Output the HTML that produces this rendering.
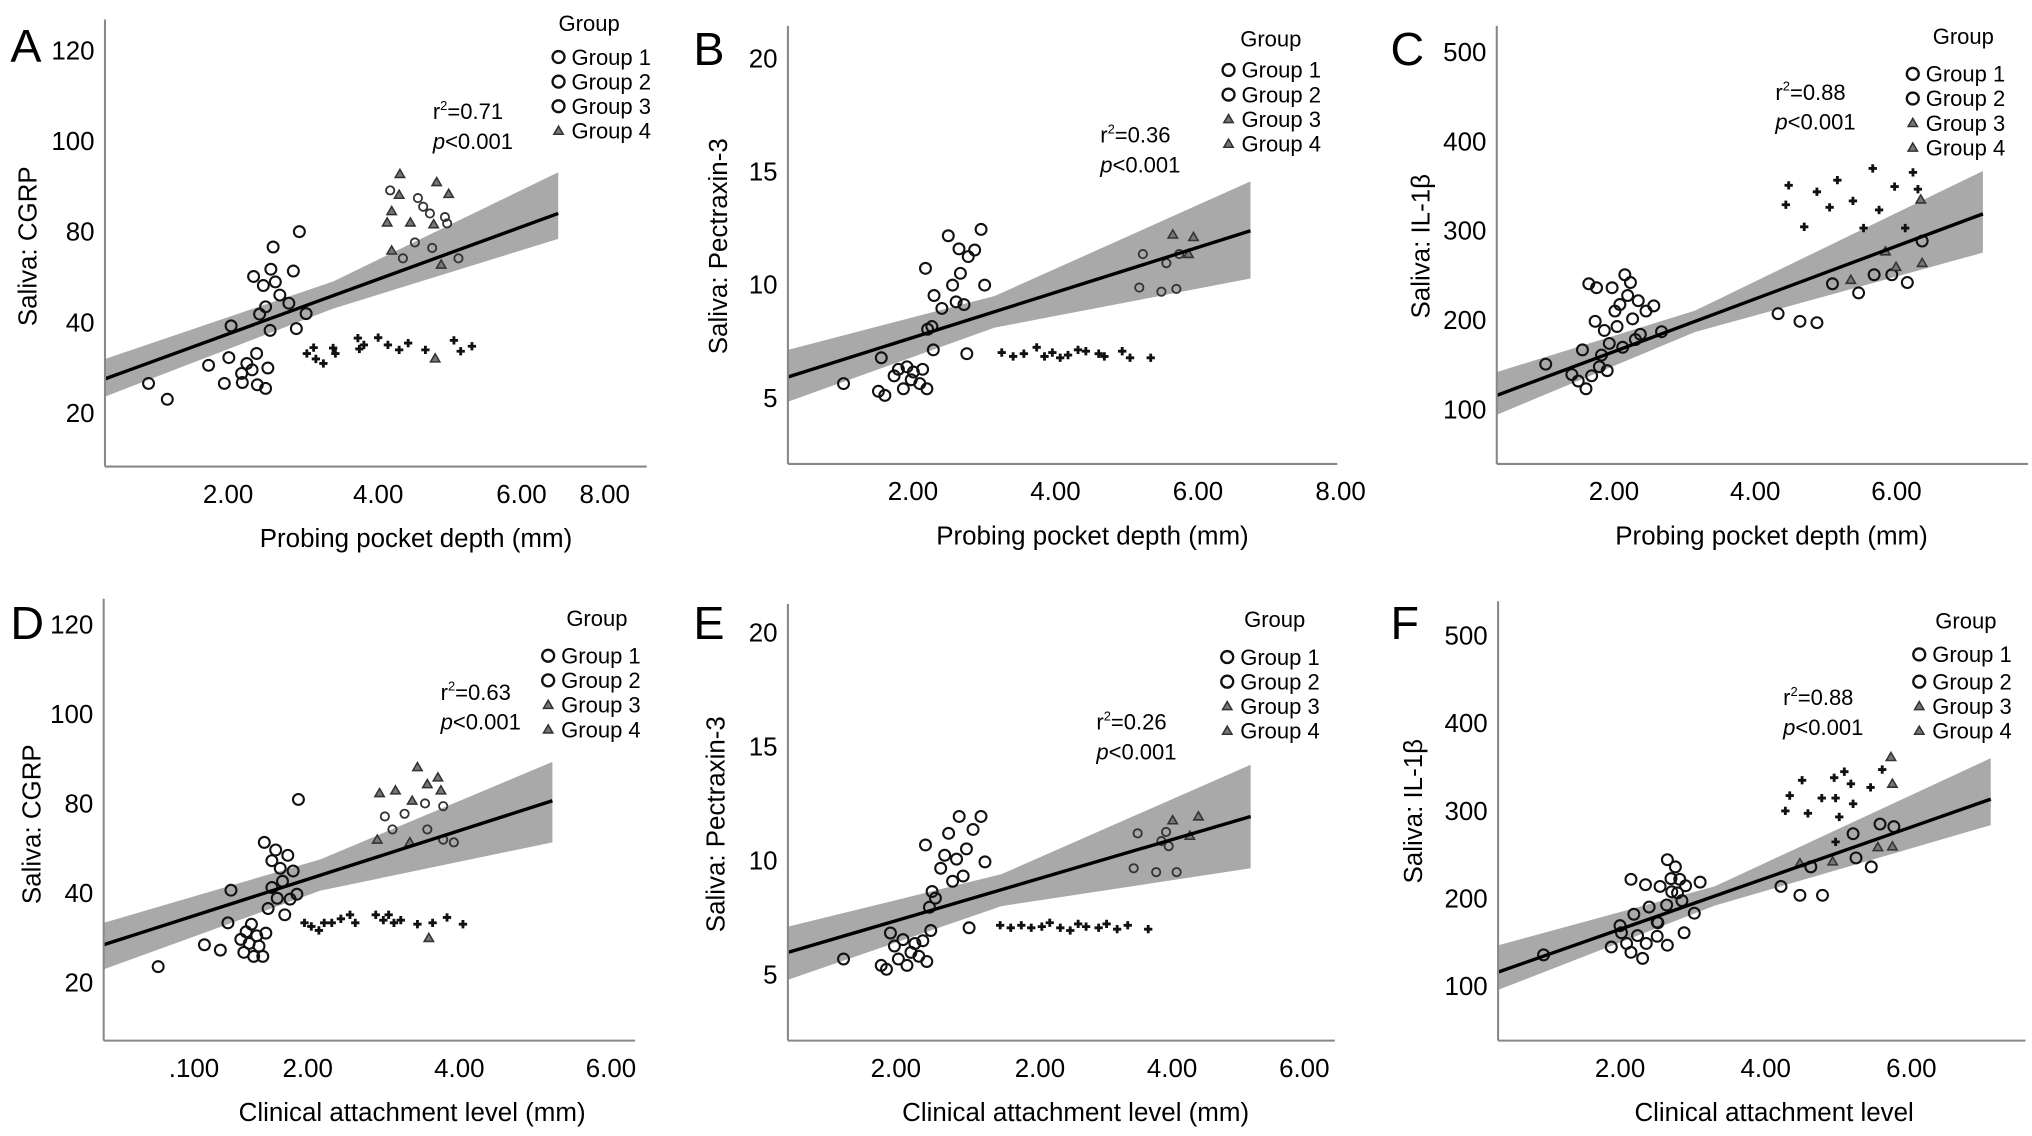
<!DOCTYPE html>
<html><head><meta charset="utf-8"><title>Saliva biomarkers vs periodontal measures</title>
<style>
html,body{margin:0;padding:0;background:#fff;}
svg{display:block;font-family:"Liberation Sans",Arial,sans-serif;}
</style></head>
<body>
<svg id="fig" width="2032" height="1136" viewBox="0 0 1568 876.6" preserveAspectRatio="none" xmlns="http://www.w3.org/2000/svg"></svg>
<script>
// ---------- Panel A: PPD vs CGRP ----------
const A_g1x=[0.94,1.19,1.74,1.95,2.01,2.04,2.18,2.19,2.25,2.32,2.38,2.39,2.34,2.47,2.50,2.53,2.56,2.42,2.50,2.57,2.60,2.63,2.69,2.81,2.87,2.91,2.95,3.04];
const A_g1y=[46.5,43.0,50.5,46.5,52.2,59.2,48.7,46.7,50.9,49.5,53.1,46.2,70.1,68.1,45.4,49.9,58.2,61.8,63.4,71.7,76.6,68.9,66.0,64.2,71.3,58.6,80.0,61.9];
const A_g2x=[3.05,3.14,3.17,3.27,3.40,3.43,3.73,3.75,3.81,4.00,4.13,4.28,4.40,4.63,5.01,5.10,5.25];
const A_g2y=[53.1,54.4,51.9,50.9,54.3,53.1,56.5,54.1,55.0,56.6,55.0,53.9,55.4,53.9,56.0,53.6,54.7];
const A_g3x=[4.16,4.53,4.60,4.69,4.89,4.92,4.49,4.72,4.33,5.07];
const A_g3y=[89.1,87.4,85.5,84.0,83.2,81.8,77.6,76.4,74.1,74.1];
const A_g4x=[4.29,4.78,4.94,4.28,4.18,4.12,4.43,4.74,4.18,4.84,4.76];
const A_g4y=[92.7,90.9,88.3,88.1,84.5,82.0,82.0,81.6,75.8,72.7,52.0];
const A_fitX=[0.36,3.4,6.40];
const A_fitY=[47.5,65.9,84.0];
const A_hi=[51.9,69.0,93.1];
const A_lo=[43.6,63.0,78.4];
const A_xTicks=[2,4,5.91,7.02];
const A_xLabels=["2.00","4.00","6.00","8.00"];
const A_yTicks=[40,60,80,100,120];
const A_yLabels=["20","40","80","100","120"];

// ---------- Panel B: PPD vs Pentraxin-3 ----------
const B_g1x=[1.38,1.91,1.87,1.96,2.09,2.15,2.22,2.27,2.33,2.36,2.45,2.49,2.55,2.64,3.11,2.53,2.56,2.62,2.65,2.76,2.85,2.91,2.96,3.00,3.02,3.07,3.13,3.22,3.31,3.36];
const B_g1y=[5.63,6.77,5.29,5.11,5.97,6.26,5.40,6.37,5.80,6.14,5.63,6.26,5.40,7.12,6.95,10.72,8.03,8.15,9.52,8.95,12.16,9.98,9.24,11.58,10.50,9.12,11.24,11.53,12.44,9.98];
const B_g2x=[3.60,3.76,3.91,4.09,4.20,4.31,4.42,4.53,4.67,4.78,4.96,5.04,5.29,5.40,5.69];
const B_g2y=[7.00,6.83,6.95,7.23,6.83,7.00,6.77,6.89,7.12,7.06,6.95,6.83,7.06,6.77,6.77];
const B_g3x=[5.53,5.58,5.84,5.91,6.05,6.09];
const B_g3y=[9.87,11.35,9.69,10.95,9.81,11.35];
const B_g4x=[6.00,6.22,6.29];
const B_g4y=[12.21,11.35,12.10];
const B_fitX=[0.6,3.5,7.09];
const B_fitY=[5.92,8.81,12.38];
const B_hi=[7.12,9.5,14.56];
const B_lo=[4.83,8.1,10.27];
const B_xTicks=[2,4,6,8];
const B_xLabels=["2.00","4.00","6.00","8.00"];
const B_yTicks=[5,10,15,20];
const B_yLabels=["5","10","15","20"];

// ---------- Panel C: PPD vs IL-1β ----------
const C_g1x=[1.39,1.76,1.85,1.91,1.96,2.00,2.04,2.09,2.11,2.15,2.18,2.22,2.26,2.29,2.33,2.37,2.40,2.44,2.48,2.51,2.55,2.59,2.62,2.66,2.70,2.73,2.81,2.92,3.03,4.68,4.99,5.23,5.45,5.82,6.04,6.29,6.51,6.72];
const C_g1y=[150.7,139.1,131.9,166.7,123.2,240.6,137.7,198.6,236.2,147.8,160.9,188.4,143.5,173.9,236.2,210.1,192.8,217.4,169.6,250.7,227.5,242.0,201.4,178.3,221.7,184.1,210.1,215.9,187.0,207.2,198.6,197.1,240.6,230.4,250.7,250.7,242.0,288.4];
const C_g2x=[4.83,4.79,5.05,5.23,5.41,5.52,5.74,5.89,6.02,6.11,6.33,6.48,6.59,6.66];
const C_g2y=[350.7,329.0,304.3,343.5,326.1,356.5,333.3,302.9,369.6,323.2,349.3,302.9,365.2,346.4];
const C_g3x=[];
const C_g3y=[];
const C_g4x=[5.71,6.20,6.72,6.70,6.35];
const C_g4y=[244.9,276.8,263.8,334.8,259.4];
const C_fitX=[0.70,3.5,7.58];
const C_fitY=[115.9,198.5,318.8];
const C_hi=[142.0,210.5,366.7];
const C_lo=[94.2,186.5,275.4];
const C_xTicks=[2,4,6];
const C_xLabels=["2.00","4.00","6.00"];
const C_yTicks=[100,200,300,400,500];
const C_yLabels=["100","200","300","400","500"];

// ---------- Panel D: CAL vs CGRP ----------
const D_g1x=[0.36,0.97,1.18,1.28,1.32,1.45,1.49,1.52,1.56,1.59,1.62,1.66,1.69,1.74,1.76,1.78,1.81,1.86,1.86,1.91,1.93,1.97,2.00,2.03,2.07,2.10,2.14,2.19,2.21];
const D_g1y=[43.5,48.4,47.2,53.3,60.6,49.6,46.7,51.3,48.7,53.0,45.8,50.4,48.1,45.8,71.3,51.0,56.5,67.2,61.2,69.6,58.8,65.5,62.6,55.1,68.4,58.6,64.9,59.7,80.9];
const D_g2x=[2.29,2.38,2.48,2.55,2.65,2.77,2.89,2.96,3.23,3.33,3.40,3.47,3.56,3.78,3.98,4.17,4.38];
const D_g2y=[53.3,52.5,51.6,53.3,53.3,54.2,55.1,53.3,55.1,53.9,55.1,53.3,53.9,53.0,53.3,54.5,53.0];
const D_g3x=[3.35,3.61,4.12,3.45,3.91,4.12,4.26,3.88];
const D_g3y=[77.1,77.7,79.4,74.2,74.2,71.9,71.3,80.0];
const D_g4x=[3.25,3.28,3.49,3.71,3.78,3.91,4.05,3.68,4.09,3.93];
const D_g4y=[71.9,82.3,82.9,80.6,88.1,84.3,85.8,71.3,82.9,49.9];
const D_fitX=[-0.36,2.5,5.56];
const D_fitY=[48.4,64.0,80.6];
const D_hi=[53.3,67.5,89.3];
const D_lo=[42.9,60.5,71.3];
const D_xTicks=[0.5,2,4,6];
const D_xLabels=[".100","2.00","4.00","6.00"];
const D_yTicks=[40,60,80,100,120];
const D_yLabels=["20","40","80","100","120"];

// ---------- Panel E: CAL vs Pentraxin-3 ----------
const E_g1x=[-0.59,-0.02,0.06,0.12,0.18,0.24,0.31,0.37,0.43,0.49,0.55,0.61,0.67,0.73,1.31,0.65,0.71,0.75,0.80,0.88,0.94,1.00,1.06,1.12,1.16,1.22,1.27,1.37,1.49,1.55];
const E_g1y=[5.68,5.40,5.23,6.82,6.25,5.68,6.53,5.40,5.97,6.36,5.80,6.48,5.57,6.93,7.05,10.68,7.95,8.64,8.35,9.66,10.23,11.19,9.09,10.06,11.93,9.32,10.51,11.36,11.93,9.94];
const E_g2x=[1.78,1.94,2.10,2.25,2.41,2.53,2.69,2.84,2.96,3.08,3.27,3.39,3.55,3.71,4.02];
const E_g2y=[7.16,7.05,7.16,7.05,7.10,7.27,7.05,6.93,7.22,7.10,7.05,7.22,6.99,7.16,6.99];
const E_g3x=[3.80,3.86,4.14,4.22,4.33,4.45,4.29];
const E_g3y=[9.66,11.19,9.49,10.85,10.63,9.49,11.25];
const E_g4x=[4.39,4.65,4.78];
const E_g4y=[11.76,11.08,11.93];
const E_fitX=[-1.43,1.8,5.57];
const E_fitY=[5.97,8.72,11.93];
const E_hi=[7.10,9.4,14.20];
const E_lo=[4.77,8.0,9.66];
const E_xTicks=[-0.18,2,4,6];
const E_xLabels=["2.00","2.00","4.00","6.00"];
const E_yTicks=[5,10,15,20];
const E_yLabels=["5","10","15","20"];

// ---------- Panel F: CAL vs IL-1β ----------
const F_g1x=[0.95,1.88,2.02,2.15,2.19,2.24,2.31,2.35,2.40,2.51,2.52,2.55,2.65,2.65,2.64,2.70,2.76,2.79,2.82,2.85,2.88,2.90,3.02,3.10,2.00,2.09,2.15,2.36,2.51,2.71,4.21,4.47,4.78,4.62,5.20,5.45,5.76,5.24,5.57];
const F_g1y=[135.7,144.7,160.9,221.8,182.0,157.7,131.7,215.7,190.2,156.9,172.3,213.7,244.2,146.7,192.6,222.6,236.0,206.4,221.8,197.5,160.9,214.5,183.2,218.6,169.0,148.7,138.6,148.7,173.1,207.6,213.7,203.6,203.6,236.0,273.8,236.0,281.9,246.2,284.8];
const F_g2x=[4.27,4.33,4.50,4.58,4.77,4.94,4.96,5.01,5.08,5.17,5.20,5.44,5.60,4.96];
const F_g2y=[299.8,317.3,334.7,297.0,314.4,337.6,314.4,292.9,344.5,330.7,307.9,326.6,346.9,264.5];
const F_g3x=[];
const F_g3y=[];
const F_g4x=[5.74,5.74,5.72,4.92,4.47,5.54];
const F_g4y=[259.2,330.7,361.1,242.1,240.1,258.4];
const F_fitX=[0.33,3.3,7.09];
const F_fitY=[116.2,202.8,313.2];
const F_hi=[146.7,213.8,359.9];
const F_lo=[95.9,191.8,283.6];
const F_xTicks=[2,4,6];
const F_xLabels=["2.00","4.00","6.00"];
const F_yTicks=[100,200,300,400,500];
const F_yLabels=["100","200","300","400","500"];

const NS="http://www.w3.org/2000/svg";
const svg=document.getElementById("fig");
function mk(tag,attrs,parent){const e=document.createElementNS(NS,tag);for(const k in attrs)e.setAttribute(k,attrs[k]);(parent||svg).appendChild(e);return e;}

const panels=[
 {id:"a",letter:"A",lx:8,ly:48,ax:81,top:15,bot:360,right:499,
  sx:v=>176+(v-2)*57.9, sy:v=>318.6-(v-40)*3.497, tickAnchor:"middle",
  g1x:A_g1x,g1y:A_g1y,g2x:A_g2x,g2y:A_g2y,g3x:A_g3x,g3y:A_g3y,g4x:A_g4x,g4y:A_g4y,
  fitX:A_fitX,fitY:A_fitY,hi:A_hi,lo:A_lo,xT:A_xTicks,xL:A_xLabels,yT:A_yTicks,yL:A_yLabels,
  xtitle:"Probing pocket depth (mm)",xtx:321,ytitle:"Saliva: CGRP",ytx:22,yty:190,
  r2:"0.71",stx:334,sty:92,legX:431,legY:[44,63,82,101],groupX:431,groupY:24,leg3:"circle"},
 {id:"b",letter:"B",lx:535,ly:50,ax:608,top:20,bot:358,right:1032,
  sx:v=>685+(v-2)*55, sy:v=>307-(v-5)*17.47, tickAnchor:"start",
  g1x:B_g1x,g1y:B_g1y,g2x:B_g2x,g2y:B_g2y,g3x:B_g3x,g3y:B_g3y,g4x:B_g4x,g4y:B_g4y,
  fitX:B_fitX,fitY:B_fitY,hi:B_hi,lo:B_lo,xT:B_xTicks,xL:B_xLabels,yT:B_yTicks,yL:B_yLabels,
  xtitle:"Probing pocket depth (mm)",xtx:843,ytitle:"Saliva: Pectraxin-3",ytx:555,yty:190,
  r2:"0.36",stx:849,sty:110,legX:948,legY:[54,73,92,111],groupX:957,groupY:36,leg3:"tri"},
 {id:"c",letter:"C",lx:1073,ly:50,ax:1155,top:20,bot:358,right:1565,
  sx:v=>1226+(v-2)*54.5, sy:v=>316-(v-100)*0.69, tickAnchor:"start",
  g1x:C_g1x,g1y:C_g1y,g2x:C_g2x,g2y:C_g2y,g3x:C_g3x,g3y:C_g3y,g4x:C_g4x,g4y:C_g4y,
  fitX:C_fitX,fitY:C_fitY,hi:C_hi,lo:C_lo,xT:C_xTicks,xL:C_xLabels,yT:C_yTicks,yL:C_yLabels,
  xtitle:"Probing pocket depth (mm)",xtx:1367,ytitle:"Saliva: IL-1β",ytx:1097,yty:190,
  r2:"0.88",stx:1370,sty:77,legX:1476,legY:[57,76,95,114],groupX:1515,groupY:34,leg3:"tri",groupMid:true},
 {id:"d",letter:"D",lx:8,ly:493,ax:80,top:462,bot:803,right:490,
  sx:v=>218+(v-2)*58.5, sy:v=>758-(v-40)*3.45, tickAnchor:"start",
  g1x:D_g1x,g1y:D_g1y,g2x:D_g2x,g2y:D_g2y,g3x:D_g3x,g3y:D_g3y,g4x:D_g4x,g4y:D_g4y,
  fitX:D_fitX,fitY:D_fitY,hi:D_hi,lo:D_lo,xT:D_xTicks,xL:D_xLabels,yT:D_yTicks,yL:D_yLabels,
  xtitle:"Clinical attachment level (mm)",xtx:318,ytitle:"Saliva: CGRP",ytx:25,yty:636,
  r2:"0.63",stx:340,sty:540,legX:423,legY:[506,525,544,563],groupX:437,groupY:483,leg3:"tri"},
 {id:"e",letter:"E",lx:535,ly:493,ax:608,top:466,bot:803,right:1030,
  sx:v=>783+(v-2)*51, sy:v=>752-(v-5)*17.6, tickAnchor:"start",
  g1x:E_g1x,g1y:E_g1y,g2x:E_g2x,g2y:E_g2y,g3x:E_g3x,g3y:E_g3y,g4x:E_g4x,g4y:E_g4y,
  fitX:E_fitX,fitY:E_fitY,hi:E_hi,lo:E_lo,xT:E_xTicks,xL:E_xLabels,yT:E_yTicks,yL:E_yLabels,
  xtitle:"Clinical attachment level (mm)",xtx:830,ytitle:"Saliva: Pectraxin-3",ytx:553,yty:636,
  r2:"0.26",stx:846,sty:563,legX:947,legY:[507,526,545,564],groupX:960,groupY:484,leg3:"tri"},
 {id:"f",letter:"F",lx:1073,ly:493,ax:1156,top:464,bot:803,right:1563,
  sx:v=>1250.1+(v-2)*56.2, sy:v=>761-(v-100)*0.677, tickAnchor:"middle",
  g1x:F_g1x,g1y:F_g1y,g2x:F_g2x,g2y:F_g2y,g3x:F_g3x,g3y:F_g3y,g4x:F_g4x,g4y:F_g4y,
  fitX:F_fitX,fitY:F_fitY,hi:F_hi,lo:F_lo,xT:F_xTicks,xL:F_xLabels,yT:F_yTicks,yL:F_yLabels,
  xtitle:"Clinical attachment level",xtx:1369,ytitle:"Saliva: IL-1β",ytx:1091,yty:626,
  r2:"0.88",stx:1376,sty:544,legX:1481,legY:[505,526,545,564],groupX:1517,groupY:485,leg3:"tri",groupMid:true}
];

function marker(g,kind,x,y,big){
  let e;
  if(kind==="circle"){
    e=mk("circle",{cx:x,cy:y,r:big?4.6:4.2,fill:"none",stroke:"#111","stroke-width":big?1.8:1.6},g);
  }else if(kind==="small"){
    e=mk("circle",{cx:x,cy:y,r:3.2,fill:"none",stroke:"#333","stroke-width":1.4},g);
  }else if(kind==="plus"){
    e=mk("path",{d:`M${x-3.2},${y}H${x+3.2}M${x},${y-3.2}V${y+3.2}`,stroke:"#111","stroke-width":2.2},g);
  }else{
    e=mk("path",{d:`M${x},${y-3.6}L${x+3.6},${y+2.6}L${x-3.6},${y+2.6}Z`,fill:"#777",stroke:"#333","stroke-width":1.2},g);
  }
  return e;
}

panels.forEach(p=>{
  const g=mk("g",{});
  
  

  const lt=mk("text",{x:p.lx,y:p.ly,"font-size":36,fill:"#000"},g);
  lt.textContent=p.letter;
  
  

  let d="";
  p.fitX.forEach((v,i)=>{d+=(i?"L":"M")+p.sx(v)+","+p.sy(p.hi[i]);});
  for(let i=p.fitX.length-1;i>=0;i--){d+="L"+p.sx(p.fitX[i])+","+p.sy(p.lo[i]);}
  const band=mk("path",{d:d+"Z",fill:"#a9a9a9",stroke:"none"},g);
  
  

  const groups=[[p.g1x,p.g1y,"circle"],[p.g2x,p.g2y,"plus"],[p.g3x,p.g3y,"small"],[p.g4x,p.g4y,"tri"]];
  groups.forEach((gr,gi)=>{
    gr[0].forEach((v,i)=>{
      const m=marker(g,gr[2],p.sx(v),p.sy(gr[1][i]),false);
      
      
    });
  });

  const n=p.fitX.length-1;
  const fl=mk("line",{x1:p.sx(p.fitX[0]),y1:p.sy(p.fitY[0]),x2:p.sx(p.fitX[n]),y2:p.sy(p.fitY[n]),stroke:"#000","stroke-width":2.6},g);
  
  

  const ya=mk("line",{x1:p.ax,y1:p.top,x2:p.ax,y2:p.bot,stroke:"#888","stroke-width":1.6},g);
  
  
  const xa=mk("line",{x1:p.ax,y1:p.bot,x2:p.right,y2:p.bot,stroke:"#888","stroke-width":1.6},g);
  
  

  p.xT.forEach((v,i)=>{
    const t=mk("text",{x:p.sx(v),y:p.bot+28,"font-size":20,"text-anchor":p.tickAnchor,fill:"#000"},g);
    t.textContent=p.xL[i];
    
    
  });
  p.yT.forEach((v,i)=>{
    const t=mk("text",{x:p.ax-8,y:p.sy(v)+7,"font-size":20,"text-anchor":"end",fill:"#000"},g);
    t.textContent=p.yL[i];
    
    
  });

  const xt=mk("text",{x:p.xtx,y:p.bot+62,"font-size":20,"text-anchor":"middle",fill:"#000"},g);
  xt.textContent=p.xtitle;
  
  
  const yt=mk("text",{x:p.ytx,y:p.yty,"font-size":20,"text-anchor":"middle",fill:"#000",transform:`rotate(-90 ${p.ytx} ${p.yty})`,"dominant-baseline":"central"},g);
  yt.textContent=p.ytitle;
  
  

  const s1=mk("text",{x:p.stx,y:p.sty,"font-size":17,fill:"#000"},g);
  s1.innerHTML='r<tspan font-size="10" dy="-7">2</tspan><tspan dy="7">=</tspan>'+p.r2;
  
  
  const s2=mk("text",{x:p.stx,y:p.sty+23,"font-size":17,fill:"#000"},g);
  s2.innerHTML='<tspan font-style="italic">p</tspan>&lt;0.001';
  
  

  const lg=mk("g",{},g);
  
  
  const gt=mk("text",{x:p.groupX,y:p.groupY,"font-size":17,fill:"#000","text-anchor":p.groupMid?"middle":"start"},lg);
  gt.textContent="Group";
  
  
  const kinds=["circle","circle",p.leg3,"tri"];
  p.legY.forEach((yy,i)=>{
    const m=marker(lg,kinds[i],p.legX,yy,true);
    
    
    const t=mk("text",{x:p.legX+10,y:yy+6,"font-size":17,fill:"#000"},lg);
    t.textContent="Group "+(i+1);
    
    
  });
});
</script>
</body></html>
